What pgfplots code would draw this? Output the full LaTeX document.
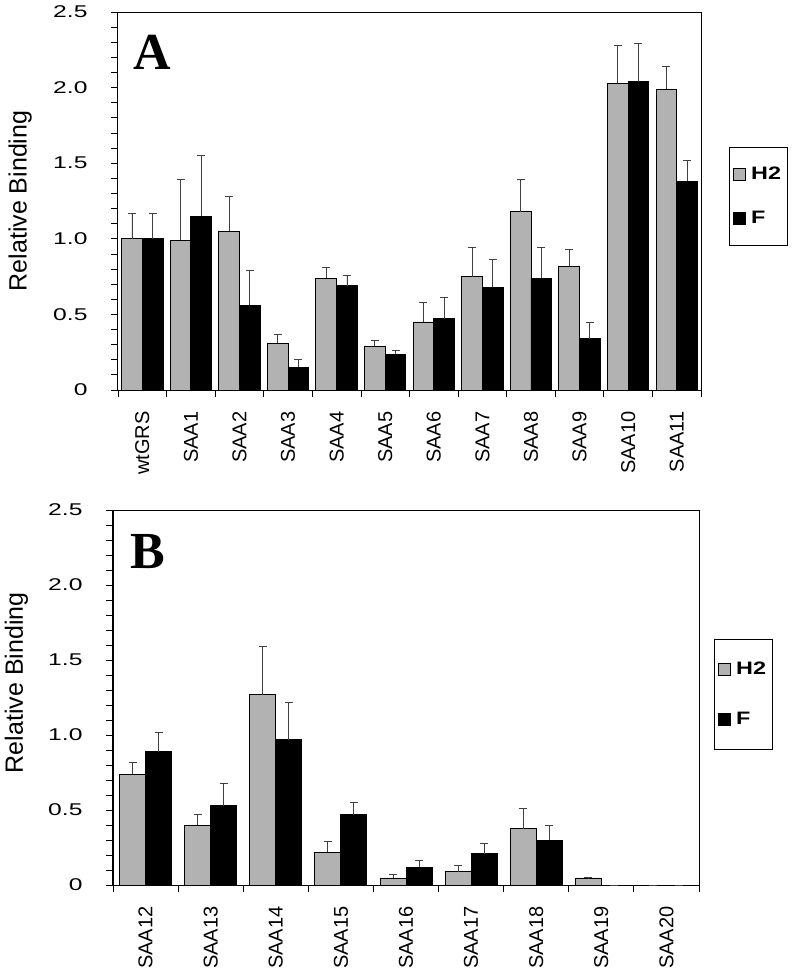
\documentclass[border=0pt]{standalone}
\usepackage{pgfplots}
\pgfplotsset{compat=1.18}
\usepackage{fontspec}
\setmainfont{Liberation Sans}
\newfontfamily\panelfont{Liberation Serif}
\newfontfamily\tickfont{Liberation Sans}[FakeStretch=1.45]
\newfontfamily\legfont{Liberation Sans}[FakeStretch=1.3]
\definecolor{barGray}{RGB}{178,178,178}

\pgfplotsset{
  relbind/.style={
    scale only axis,
    ybar=0pt,
    ymin=0, ymax=2.5,
    ytick={0,0.5,1,1.5,2,2.5},
    yticklabels={0,0.5,1.0,1.5,2.0,2.5},
    minor y tick num=4,
    tick align=outside, tick pos=left,
    major tick length=7pt, minor tick length=7pt,
    every tick/.style={black, line width=0.8pt},
    major x tick style={draw=none},
    axis line style={black, line width=1pt},
    yticklabel style={font=\tickfont\fontsize{17}{20}\selectfont, xshift=-20pt},
    xticklabel style={font=\fontsize{20}{22}\selectfont, yshift=-11pt, rotate=90, anchor=east},
    ylabel={Relative Binding},
    ylabel style={font=\fontsize{25}{27}\selectfont, anchor=center},
    error bars/y dir=plus, error bars/y explicit,
    error bars/error bar style={black!75, line width=0.8pt},
    error bars/error mark options={rotate=90, mark size=4pt, black!75, line width=0.8pt},
    legend style={draw=black, line width=0.8pt, font=\legfont\bfseries\fontsize{18}{20}\selectfont,
      inner xsep=4pt, inner ysep=18pt, row sep=26pt, column sep=3pt, legend cell align=left},
  },
}

\begin{document}
\begin{tikzpicture}
\useasboundingbox (0,0) rectangle (794pt,-972pt);

% ---- panel A
\begin{axis}[relbind,
  at={(118pt,-390pt)}, anchor=south west,
  width=583pt, height=378pt,
  bar width=20.7pt,
  xmin=-0.5, xmax=11.5,
  xtick={0,...,11},
  xticklabels={wtGRS,SAA1,SAA2,SAA3,SAA4,SAA5,SAA6,SAA7,SAA8,SAA9,SAA10,SAA11},
  minor xtick={-0.5,0.5,...,11.5},
  ylabel style={at={(axis description cs:-0.168,0.5)}},
  legend style={at={(1.048,0.643)}, anchor=north west},
]
\addlegendimage{legend image code/.code={\draw[fill=barGray,draw=black,line width=0.8pt] (0pt,-6pt) rectangle (12pt,6pt);}}
\addlegendentry{H2}
\addlegendimage{legend image code/.code={\draw[fill=black,draw=black,line width=0.8pt] (0pt,-6pt) rectangle (12pt,6pt);}}
\addlegendentry{F}
% H2
\addplot[fill=barGray, draw=black, line width=0.9pt, bar shift=-10.35pt, forget plot]
coordinates {
  (0,1.00) +- (0,0.17)
  (1,0.99) +- (0,0.40)
  (2,1.05) +- (0,0.23)
  (3,0.31) +- (0,0.06)
  (4,0.74) +- (0,0.07)
  (5,0.29) +- (0,0.035)
  (6,0.45) +- (0,0.13)
  (7,0.75) +- (0,0.19)
  (8,1.18) +- (0,0.21)
  (9,0.82) +- (0,0.11)
  (10,2.03) +- (0,0.25)
  (11,1.99) +- (0,0.15)
};
% F
\addplot[fill=black, draw=black, line width=0.9pt, bar shift=10.35pt, forget plot]
coordinates {
  (0,1.00) +- (0,0.17)
  (1,1.15) +- (0,0.40)
  (2,0.56) +- (0,0.23)
  (3,0.15) +- (0,0.055)
  (4,0.69) +- (0,0.065)
  (5,0.235) +- (0,0.03)
  (6,0.47) +- (0,0.14)
  (7,0.68) +- (0,0.185)
  (8,0.74) +- (0,0.205)
  (9,0.34) +- (0,0.11)
  (10,2.04) +- (0,0.25)
  (11,1.38) +- (0,0.14)
};
\node[font=\panelfont\bfseries\fontsize{52}{52}\selectfont] at (rel axis cs:0.058,0.894) {A};
\end{axis}

% ---- panel B
\begin{axis}[relbind,
  at={(113pt,-885pt)}, anchor=south west,
  width=586pt, height=375pt,
  bar width=26pt,
  xmin=-0.5, xmax=8.5,
  xtick={0,...,8},
  xticklabels={SAA12,SAA13,SAA14,SAA15,SAA16,SAA17,SAA18,SAA19,SAA20},
  minor xtick={-0.5,0.5,...,8.5},
  ylabel style={at={(axis description cs:-0.165,0.539)}},
  legend style={at={(1.0256,0.656)}, anchor=north west, row sep=32pt, inner ysep=21pt},
]
\addlegendimage{legend image code/.code={\draw[fill=barGray,draw=black,line width=0.8pt] (0pt,-6pt) rectangle (12pt,6pt);}}
\addlegendentry{H2}
\addlegendimage{legend image code/.code={\draw[fill=black,draw=black,line width=0.8pt] (0pt,-6pt) rectangle (12pt,6pt);}}
\addlegendentry{F}
% H2
\addplot[fill=barGray, draw=black, line width=0.9pt, bar shift=-13pt, forget plot]
coordinates {
  (0,0.74) +- (0,0.08)
  (1,0.40) +- (0,0.07)
  (2,1.27) +- (0,0.32)
  (3,0.22) +- (0,0.07)
  (4,0.047) +- (0,0.025)
  (5,0.09) +- (0,0.04)
  (6,0.375) +- (0,0.135)
  (7,0.047) +- (0,0.003)
  (8,0) +- (0,0)
};
% F
\addplot[fill=black, draw=black, line width=0.9pt, bar shift=13pt, forget plot]
coordinates {
  (0,0.89) +- (0,0.13)
  (1,0.53) +- (0,0.15)
  (2,0.97) +- (0,0.25)
  (3,0.47) +- (0,0.08)
  (4,0.12) +- (0,0.045)
  (5,0.21) +- (0,0.065)
  (6,0.30) +- (0,0.10)
  (7,0) +- (0,0)
  (8,0) +- (0,0)
};
\node[font=\panelfont\bfseries\fontsize{52}{52}\selectfont] at (rel axis cs:0.06,0.888) {B};
\end{axis}
\end{tikzpicture}
\end{document}
